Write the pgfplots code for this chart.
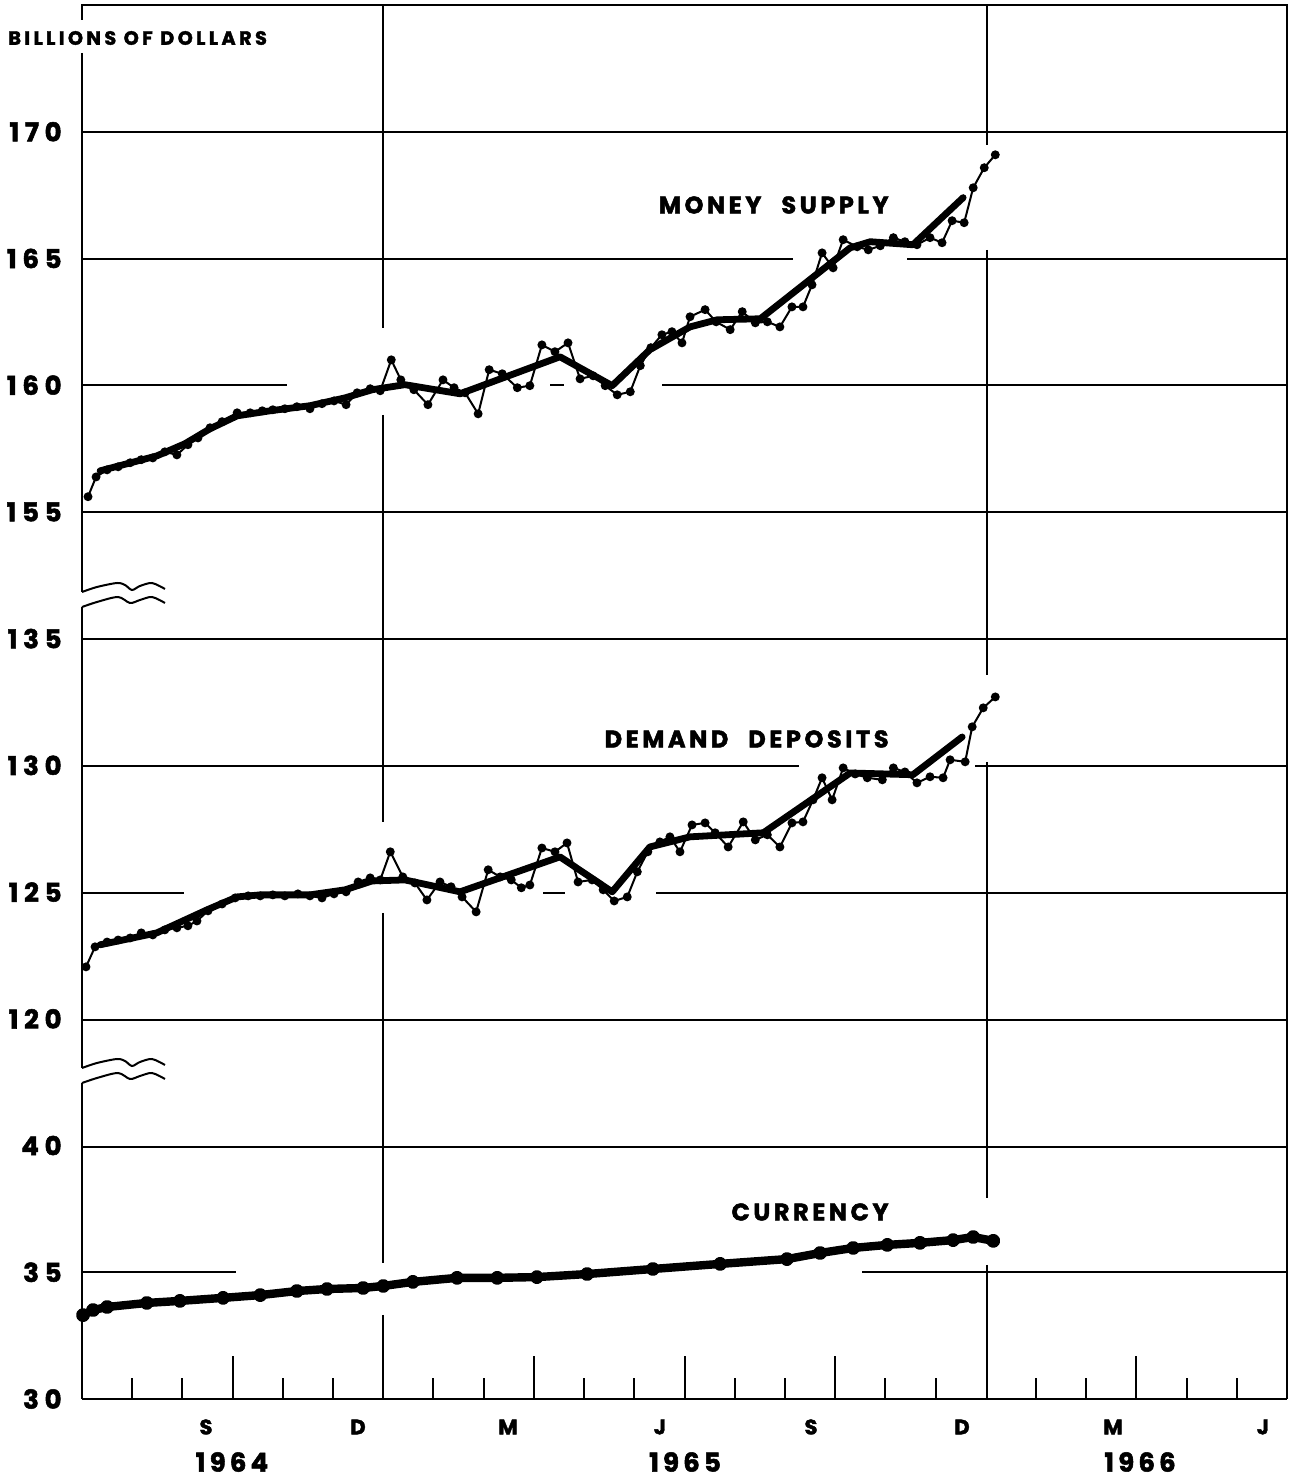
\documentclass[border=0pt]{standalone}
\usepackage{fontspec}
\setmainfont{Poppins}
\newfontfamily\labfont{Poppins}[LetterSpace=14, BoldFeatures={FakeBold=2}]
\usepackage{pgfplots}
\usepackage{pgfplotstable}
\pgfplotsset{compat=1.18}
\tikzset{px/.style={x=0.5pt,y=-0.5pt,shift={(-41pt,699.5pt)}}}

\pgfplotstableread{
m v
0.12 155.60
0.28 156.38
0.50 156.66
0.72 156.78
0.96 156.94
1.18 157.06
1.41 157.13
1.65 157.37
1.89 157.25
2.11 157.65
2.31 157.92
2.55 158.32
2.79 158.56
3.09 158.91
3.35 158.91
3.59 158.99
3.80 159.03
4.04 159.07
4.28 159.15
4.54 159.07
4.78 159.27
5.02 159.38
5.26 159.23
5.48 159.70
5.74 159.86
5.94 159.78
6.16 161.00
6.35 160.21
6.61 159.82
6.89 159.23
7.19 160.21
7.41 159.90
7.63 159.70
7.89 158.87
8.11 160.61
8.37 160.45
8.67 159.90
8.92 159.98
9.16 161.59
9.42 161.32
9.68 161.67
9.92 160.25
10.18 160.37
10.42 159.98
10.66 159.62
10.92 159.74
11.12 160.77
11.33 161.48
11.55 161.99
11.75 162.11
11.95 161.67
12.11 162.70
12.41 162.98
12.63 162.50
12.91 162.19
13.15 162.90
13.41 162.46
13.65 162.50
13.90 162.30
14.14 163.09
14.36 163.09
14.54 163.96
14.74 165.22
14.96 164.63
15.16 165.74
15.44 165.46
15.66 165.34
15.90 165.50
16.16 165.82
16.39 165.66
16.63 165.54
16.89 165.82
17.13 165.62
17.33 166.49
17.57 166.41
17.75 167.79
17.97 168.58
18.19 169.09
}\msweekly

\pgfplotstableread{
m v
0.36 156.62
1.49 157.21
2.05 157.69
2.55 158.28
3.09 158.79
3.75 158.99
4.54 159.19
5.24 159.50
5.78 159.82
6.43 160.02
7.53 159.66
9.52 161.12
10.56 159.98
11.31 161.40
12.11 162.30
12.65 162.58
13.51 162.62
15.30 165.42
15.70 165.66
16.55 165.54
17.55 167.40
}\mstrend

\pgfplotstableread{
m v
0.08 122.05
0.26 122.84
0.50 123.03
0.72 123.11
0.96 123.19
1.18 123.39
1.41 123.31
1.65 123.51
1.89 123.59
2.11 123.67
2.29 123.86
2.51 124.26
2.79 124.53
3.05 124.77
3.31 124.85
3.55 124.85
3.80 124.89
4.04 124.85
4.30 124.93
4.54 124.85
4.78 124.77
5.02 124.93
5.26 125.01
5.50 125.40
5.74 125.56
5.94 125.48
6.14 126.59
6.39 125.60
6.63 125.36
6.87 124.69
7.13 125.40
7.35 125.21
7.57 124.81
7.85 124.22
8.09 125.88
8.33 125.60
8.55 125.48
8.75 125.17
8.92 125.28
9.16 126.74
9.42 126.59
9.66 126.94
9.88 125.40
10.16 125.48
10.38 125.09
10.60 124.65
10.86 124.81
11.06 125.80
11.27 126.59
11.51 126.98
11.71 127.18
11.91 126.59
12.15 127.65
12.41 127.73
12.61 127.34
12.87 126.78
13.17 127.77
13.41 127.06
13.65 127.26
13.90 126.78
14.14 127.73
14.36 127.77
14.56 128.64
14.74 129.51
14.94 128.64
15.16 129.90
15.40 129.66
15.64 129.51
15.94 129.43
16.16 129.90
16.39 129.74
16.63 129.31
16.89 129.55
17.15 129.51
17.29 130.22
17.59 130.14
17.73 131.52
17.95 132.27
18.19 132.70
}\ddweekly

\pgfplotstableread{
m v
0.36 122.92
1.49 123.39
2.49 124.30
3.09 124.81
3.55 124.89
4.54 124.89
5.24 125.09
5.78 125.44
6.43 125.48
7.53 125.01
9.52 126.39
10.56 125.01
11.31 126.78
12.11 127.18
13.57 127.34
15.30 129.70
16.55 129.63
17.53 131.12
}\ddtrend

\pgfplotstableread{
m v
0.02 33.31
0.22 33.51
0.50 33.63
1.29 33.79
1.95 33.87
2.81 33.99
3.55 34.10
4.28 34.26
4.88 34.34
5.60 34.38
6.00 34.46
6.59 34.62
7.47 34.78
8.27 34.78
9.06 34.81
10.06 34.93
11.37 35.13
12.71 35.33
14.04 35.52
14.70 35.76
15.36 35.96
16.04 36.08
16.69 36.16
17.35 36.27
17.75 36.39
18.15 36.24
}\currency

\begin{document}
\begin{tikzpicture}
% ---------- grid lines with gaps, frame (pixel coordinates) ----------
\begin{scope}[px, line width=1.2pt, line cap=butt]
  \draw (82,132) -- (1287,132);
  \draw (82,259) -- (793,259);  \draw (907,259) -- (1287,259);
  \draw (82,385) -- (287,385);  \draw (550,385) -- (564,385); \draw (662,385) -- (1287,385);
  \draw (82,512) -- (1287,512);
  \draw (82,639) -- (1287,639);
  \draw (82,766) -- (799,766);  \draw (975,766) -- (1287,766);
  \draw (82,893) -- (184,893);  \draw (543,893) -- (565,893); \draw (656,893) -- (1287,893);
  \draw (82,1020) -- (1287,1020);
  \draw (82,1147) -- (1287,1147);
  \draw (82,1272) -- (236,1272); \draw (862,1272) -- (1287,1272);
  \draw (383,5) -- (383,328); \draw (383,415) -- (383,822);
  \draw (383,913) -- (383,1263); \draw (383,1315) -- (383,1399);
  \draw (987,5) -- (987,145); \draw (987,250) -- (987,675);
  \draw (987,762) -- (987,1198); \draw (987,1265) -- (987,1399);
  \draw[line width=1.4pt] (82,20) -- (82,5) -- (1287,5) -- (1287,1399);
  \draw[line width=1.4pt] (82,53) -- (82,592);
  \draw[line width=1.4pt] (82,607) -- (82,1068);
  \draw[line width=1.4pt] (82,1083) -- (82,1399);
  \draw[line width=1pt] plot[smooth] coordinates {(82,592) (97,587) (117,583) (125,585) (132,590) (140,586) (152,583) (165,589)};
  \draw[line width=1pt] plot[smooth] coordinates {(82,607) (97,602) (118,597) (130,603) (140,600) (152,597) (165,603)};
  \draw[line width=1pt] plot[smooth] coordinates {(82,1068) (97,1063) (117,1059) (125,1061) (132,1066) (140,1062) (152,1059) (165,1065)};
  \draw[line width=1pt] plot[smooth] coordinates {(82,1083) (97,1078) (118,1073) (130,1079) (140,1076) (152,1073) (165,1079)};
\end{scope}

\begin{axis}[
  at={(0,0)}, anchor=south west,
  width=602.5pt, height=697pt, scale only axis,
  xmin=0, xmax=24, ymin=0, ymax=55,
  axis x line*=bottom, axis y line*=left,
  x axis line style={line width=1.4pt, -},
  y axis line style={draw=none},
  xtick={1,2,4,5,7,8,10,11,13,14,16,17,19,20,22,23},
  xticklabels={},
  xtick align=inside,
  major tick length=10.5pt,
  extra x ticks={3,9,12,15,21},
  extra x tick labels={},
  extra x tick style={major tick length=21.5pt},
  xtick style={line width=1pt, black},
  ytick={0,5,...,50},
  yticklabels={30,35,40,120,125,130,135,155,160,165,170},
  ytick style={draw=none},
  yticklabel style={font=\labfont\bfseries\fontsize{13pt}{13pt}\selectfont\addfontfeatures{LetterSpace=22}, anchor=east, inner sep=0pt, xshift=-10pt},
  clip=false,
]
% Money supply
\addplot[black, line width=3.4pt, line join=round, line cap=round] table[x=m, y expr=\thisrow{v}-120] {\mstrend};
\addplot[black, line width=1pt, mark=*, mark size=1.7pt] table[x=m, y expr=\thisrow{v}-120] {\msweekly};
% Demand deposits
\addplot[black, line width=3.4pt, line join=round, line cap=round] table[x=m, y expr=\thisrow{v}-105] {\ddtrend};
\addplot[black, line width=1pt, mark=*, mark size=1.7pt] table[x=m, y expr=\thisrow{v}-105] {\ddweekly};
% Currency
\addplot[black, line width=4.2pt, line join=round, line cap=round, mark=*, mark size=1.4pt] table[x=m, y expr=\thisrow{v}-30] {\currency};
\end{axis}

% ---------- text ----------
\begin{scope}[px]
  \node[anchor=west, inner sep=0pt, font=\labfont\bfseries\fontsize{9.6pt}{9.6pt}\selectfont\addfontfeatures{LetterSpace=18}] at (8,38) {BILLIONS OF DOLLARS};
  \tikzset{serlab/.style={anchor=east, inner sep=0pt, font=\labfont\bfseries\fontsize{12pt}{12pt}\selectfont\addfontfeatures{LetterSpace=15}}}
  \node[serlab] at (889,205) {MONEY\hspace{10pt}SUPPLY};
  \node[serlab] at (889,739) {DEMAND\hspace{10pt}DEPOSITS};
  \node[serlab] at (889,1212) {CURRENCY};
  \tikzset{mon/.style={inner sep=0pt, font=\labfont\bfseries\fontsize{10.5pt}{10.5pt}\selectfont}}
  \node[mon] at (206,1427) {S};
  \node[mon] at (358,1427) {D};
  \node[mon] at (508,1427) {M};
  \node[mon] at (660,1427) {J};
  \node[mon] at (811,1427) {S};
  \node[mon] at (962,1427) {D};
  \node[mon] at (1113,1427) {M};
  \node[mon] at (1263,1427) {J};
  \tikzset{yr/.style={inner sep=0pt, font=\labfont\bfseries\fontsize{13pt}{13pt}\selectfont\addfontfeatures{LetterSpace=16}}}
  \node[yr] at (232,1462) {1964};
  \node[yr] at (685,1462) {1965};
  \node[yr] at (1140,1462) {1966};
\end{scope}

\pgfresetboundingbox
\begin{scope}[px]
  \path (0,0) rectangle (1291,1478);
\end{scope}
\end{tikzpicture}
\end{document}
